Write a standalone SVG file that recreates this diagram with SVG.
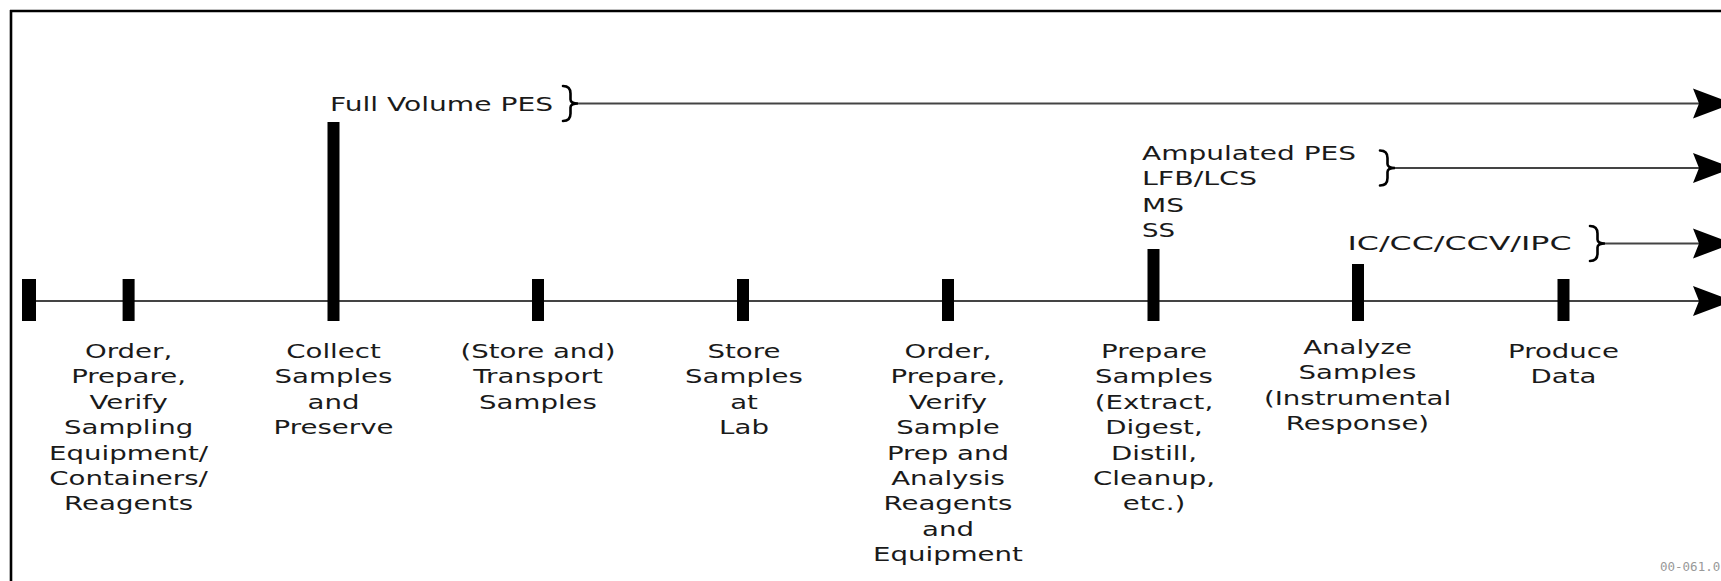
<svg xmlns="http://www.w3.org/2000/svg" xmlns:xlink="http://www.w3.org/1999/xlink" width="1721" height="581" viewBox="0 0 1721 581">
  <style>
    .lbl text { font-family: "DejaVu Sans", "Liberation Sans", sans-serif; font-size: 20px; fill: #1a1a1a; text-anchor: middle; }
    .top { font-family: "DejaVu Sans", "Liberation Sans", sans-serif; font-size: 20px; fill: #1a1a1a; }
    .tick { fill: #000; }
    .conn { stroke: #444; stroke-width: 2.2; fill: none; }
    .brace { stroke: #000; stroke-width: 2.6; fill: none; stroke-linecap: round; }
    .frame { stroke: #000; stroke-width: 2.6; fill: none; }
  </style>
  <defs>
    <path id="ah" d="M0,0 L-40,-15 L-34,0 L-40,15 Z" fill="#000"/>
    <path id="br" d="M-15,-17.5 Q-7.5,-17.5 -7.5,-10 L-7.5,-4 Q-7.5,0 0,0 Q-7.5,0 -7.5,4 L-7.5,10 Q-7.5,17.5 -15,17.5"/>
  </defs>
  <rect width="1721" height="581" fill="#fff"/>
  <g id="frame">
    <line class="frame" x1="11" y1="10" x2="11" y2="581"/>
    <line class="frame" x1="10" y1="11" x2="1721" y2="11"/>
  </g>
  <g id="connectors">
    <line class="conn" x1="22" y1="301" x2="1700" y2="301"/>
    <line class="conn" x1="578" y1="103.5" x2="1700" y2="103.5"/>
    <line class="conn" x1="1395" y1="168" x2="1700" y2="168"/>
    <line class="conn" x1="1605" y1="243.5" x2="1700" y2="243.5"/>
    <use xlink:href="#ah" x="1733" y="301"/>
    <use xlink:href="#ah" x="1733" y="103.5"/>
    <use xlink:href="#ah" x="1733" y="168"/>
    <use xlink:href="#ah" x="1733" y="243.5"/>
  </g>
  <g id="n0">
    <rect class="tick" x="22" y="279" width="14" height="42"/>
  </g>
  <g id="n1">
    <rect class="tick" x="122.6" y="279" width="12" height="42"/>
    <g class="lbl" transform="translate(128.6 0) scale(1.38 1)">
      <text x="0" y="358">Order,</text>
      <text x="0" y="383.4">Prepare,</text>
      <text x="0" y="408.8">Verify</text>
      <text x="0" y="434.2">Sampling</text>
      <text x="0" y="459.6">Equipment/</text>
      <text x="0" y="485">Containers/</text>
      <text x="0" y="510.4">Reagents</text>
    </g>
  </g>
  <g id="n2">
    <rect class="tick" x="327.5" y="122" width="12" height="199"/>
    <g class="lbl" transform="translate(333.5 0) scale(1.38 1)">
      <text x="0" y="358">Collect</text>
      <text x="0" y="383.4">Samples</text>
      <text x="0" y="408.8">and</text>
      <text x="0" y="434.2">Preserve</text>
    </g>
  </g>
  <g id="n3">
    <rect class="tick" x="532" y="279" width="12" height="42"/>
    <g class="lbl" transform="translate(538 0) scale(1.38 1)">
      <text x="0" y="358">(Store and)</text>
      <text x="0" y="383.4">Transport</text>
      <text x="0" y="408.8">Samples</text>
    </g>
  </g>
  <g id="n4">
    <rect class="tick" x="737" y="279" width="12" height="42"/>
    <g class="lbl" transform="translate(744 0) scale(1.38 1)">
      <text x="0" y="358">Store</text>
      <text x="0" y="383.4">Samples</text>
      <text x="0" y="408.8">at</text>
      <text x="0" y="434.2">Lab</text>
    </g>
  </g>
  <g id="n5">
    <rect class="tick" x="942" y="279" width="12" height="42"/>
    <g class="lbl" transform="translate(948 0) scale(1.38 1)">
      <text x="0" y="358">Order,</text>
      <text x="0" y="383.4">Prepare,</text>
      <text x="0" y="408.8">Verify</text>
      <text x="0" y="434.2">Sample</text>
      <text x="0" y="459.6">Prep and</text>
      <text x="0" y="485">Analysis</text>
      <text x="0" y="510.4">Reagents</text>
      <text x="0" y="535.8">and</text>
      <text x="0" y="561.2">Equipment</text>
    </g>
  </g>
  <g id="n6">
    <rect class="tick" x="1147.5" y="249" width="12" height="72"/>
    <g class="lbl" transform="translate(1154 0) scale(1.38 1)">
      <text x="0" y="358">Prepare</text>
      <text x="0" y="383.4">Samples</text>
      <text x="0" y="408.8">(Extract,</text>
      <text x="0" y="434.2">Digest,</text>
      <text x="0" y="459.6">Distill,</text>
      <text x="0" y="485">Cleanup,</text>
      <text x="0" y="510.4">etc.)</text>
    </g>
  </g>
  <g id="n7">
    <rect class="tick" x="1352" y="264" width="12" height="57"/>
    <g class="lbl" transform="translate(1357.5 0) scale(1.38 1)">
      <text x="0" y="354">Analyze</text>
      <text x="0" y="379.4">Samples</text>
      <text x="0" y="404.8">(Instrumental</text>
      <text x="0" y="430.2">Response)</text>
    </g>
  </g>
  <g id="n8">
    <rect class="tick" x="1557.5" y="279" width="12" height="42"/>
    <g class="lbl" transform="translate(1563.5 0) scale(1.38 1)">
      <text x="0" y="358">Produce</text>
      <text x="0" y="383.4">Data</text>
    </g>
  </g>
  <g id="full-volume">
    <text class="top" x="330" y="111" textLength="223" lengthAdjust="spacingAndGlyphs">Full Volume PES</text>
    <use class="brace" xlink:href="#br" transform="translate(578 103.5)"/>
  </g>
  <g id="ampulated">
    <text class="top" x="1142" y="160" textLength="214" lengthAdjust="spacingAndGlyphs">Ampulated PES</text>
    <text class="top" x="1142" y="185" textLength="115" lengthAdjust="spacingAndGlyphs">LFB/LCS</text>
    <text class="top" x="1142" y="211.5" textLength="42" lengthAdjust="spacingAndGlyphs">MS</text>
    <text class="top" x="1142" y="237" textLength="33" lengthAdjust="spacingAndGlyphs">SS</text>
    <use class="brace" xlink:href="#br" transform="translate(1395 168)"/>
  </g>
  <g id="ic">
    <text class="top" x="1347.5" y="250" textLength="224" lengthAdjust="spacingAndGlyphs">IC/CC/CCV/IPC</text>
    <use class="brace" xlink:href="#br" transform="translate(1605 243.5)"/>
  </g>
  <text id="figno" x="1660" y="571" font-family="DejaVu Sans Mono, monospace" font-size="12.5" fill="#999">00-061.0</text>
</svg>
